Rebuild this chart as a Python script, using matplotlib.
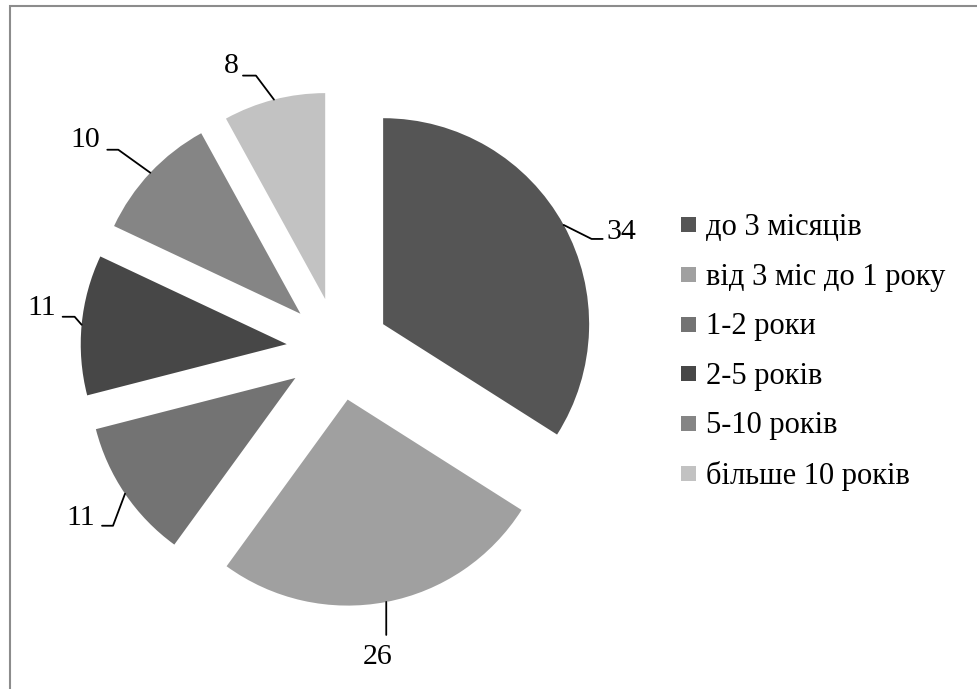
import numpy as np
import matplotlib.pyplot as plt
from matplotlib.lines import Line2D
from matplotlib.patches import Rectangle

plt.rcParams["font.family"] = ["Liberation Serif", "DejaVu Serif"]

labels = ["до 3 місяців", "від 3 міс до 1 року", "1-2 роки",
          "2-5 років", "5-10 років", "більше 10 років"]
values = [34, 26, 11, 11, 10, 8]
colors = ["#555555", "#a0a0a0", "#737373", "#474747", "#858585", "#c2c2c2"]

# leader layout per slice, in pixels relative to the arc point (y up):
# line end (dx, dy), angle of the slanted part, label anchor (dx, dy), ha
LEADERS = [
    (39, -14, -26.6, 43, -7, "left"),
    (0, -33, None, -9, -55, "center"),
    (-23, -32, 69.4, -30, -24, "right"),
    (-19, 8, 131.2, -26, 17, "right"),
    (-43, 23, 144.3, -50, 32.5, "right"),
    (-31, 24, 126.9, -35, 33.5, "right"),
]

W, H = 978, 689
R = 206                       # pie radius in px
CX, CY = 338, 349             # pie centre in px (from top-left)
FS = 21.5
FS_LEG = 22

fig = plt.figure(figsize=(W/100, H/100), dpi=100)
ax = fig.add_axes([0, 0, 1, 1])
wedges, _ = ax.pie(values, colors=colors, startangle=90, counterclock=False,
                   explode=[0.25]*len(values), radius=1,
                   wedgeprops=dict(linewidth=0))
ax.set_xlim(-CX/R, (W-CX)/R)
ax.set_ylim(-(H-CY)/R, CY/R)
ax.set_aspect("auto")
ax.axis("off")

for w, v, (ex, ey, ang, tx, ty, ha) in zip(wedges, values, LEADERS):
    th = np.deg2rad((w.theta1 + w.theta2) / 2)
    p = (w.center[0] + w.r*np.cos(th), w.center[1] + w.r*np.sin(th))
    cs = "arc3" if ang is None else f"angle,angleA=0,angleB={ang},rad=0"
    ax.annotate("", xy=p, xytext=(ex, ey), textcoords="offset pixels",
                arrowprops=dict(arrowstyle="-", color="black", lw=1.3,
                                connectionstyle=cs, shrinkA=0, shrinkB=0))
    ax.annotate(str(v), xy=p, xytext=(tx, ty), textcoords="offset pixels",
                ha=ha, va="center", fontsize=FS, color="black")

handles = [Line2D([], [], ls="", marker="s", markersize=10.8,
                  markerfacecolor=w.get_facecolor(), markeredgewidth=0)
           for w in wedges]
fig.legend(handles, labels, loc="upper left", bbox_to_anchor=(681/W, 1 - 213/H),
           frameon=False, fontsize=FS_LEG, borderpad=0, borderaxespad=0,
           handlelength=0.49, handletextpad=0.33, labelspacing=0.675)

# chart-area border: only top and left edges fall inside the image
fig.patches.append(Rectangle((10/W, -0.1), 1.2, 1.1 - 6/H, transform=fig.transFigure,
                             fill=False, edgecolor="#8c8c8c", lw=1.5))

fig.savefig("out.png", dpi=100)
